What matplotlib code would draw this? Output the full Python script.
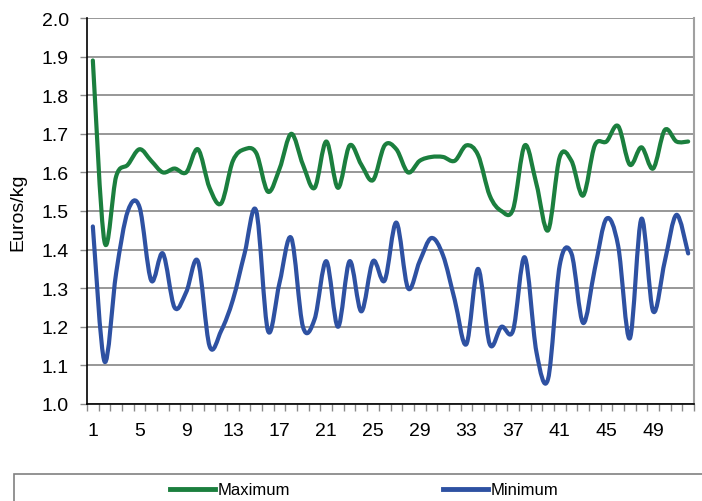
import numpy as np
import matplotlib
matplotlib.use("Agg")
import matplotlib.pyplot as plt
from matplotlib.path import Path
from matplotlib.patches import PathPatch, Rectangle
from matplotlib.lines import Line2D

plt.rcParams['font.family'] = ['Liberation Sans', 'DejaVu Sans']

weeks = np.arange(1, 53)
maximum = [1.89, 1.42, 1.59, 1.62, 1.66, 1.63, 1.60, 1.61, 1.60, 1.66,
           1.56, 1.52, 1.63, 1.66, 1.65, 1.55, 1.61, 1.70, 1.62, 1.56,
           1.68, 1.56, 1.67, 1.62, 1.58, 1.67, 1.66, 1.60, 1.63, 1.64,
           1.64, 1.63, 1.67, 1.645, 1.54, 1.50, 1.505, 1.67, 1.57, 1.45,
           1.64, 1.63, 1.54, 1.67, 1.68, 1.72, 1.62, 1.665, 1.61, 1.71,
           1.68, 1.68]
minimum = [1.46, 1.11, 1.34, 1.50, 1.51, 1.32, 1.39, 1.25, 1.29, 1.37,
           1.15, 1.19, 1.27, 1.39, 1.50, 1.19, 1.315, 1.43, 1.20, 1.22,
           1.37, 1.20, 1.37, 1.24, 1.37, 1.32, 1.47, 1.30, 1.37, 1.43,
           1.385, 1.27, 1.155, 1.35, 1.155, 1.20, 1.19, 1.38, 1.135, 1.065,
           1.36, 1.39, 1.21, 1.35, 1.48, 1.41, 1.17, 1.48, 1.24, 1.37,
           1.49, 1.39]
tick_weeks = list(range(1, 50, 4))
series = [("Maximum", maximum, '#1b7f3e'), ("Minimum", minimum, '#2e51a2')]


def smooth_path(x, y):
    # Bezier path like Excel "smoothed line"
    x = np.asarray(x, float)
    y = np.asarray(y, float)
    pts = np.column_stack([x, y])
    verts = [pts[0]]
    codes = [Path.MOVETO]
    n = len(pts)
    for i in range(n - 1):
        p0 = pts[max(i - 1, 0)]
        p1 = pts[i]
        p2 = pts[i + 1]
        p3 = pts[min(i + 2, n - 1)]
        c1 = p1 + (p2 - p0) / 6.0
        c2 = p2 - (p3 - p1) / 6.0
        verts += [c1, c2, p2]
        codes += [Path.CURVE4] * 3
    return Path(verts, codes)


fig = plt.figure(figsize=(7.02, 5.02), dpi=100)
ax = fig.add_axes([87 / 702, 97 / 502, 607 / 702, 386 / 502])

for name, vals, col in series:
    patch = PathPatch(smooth_path(weeks, vals), facecolor='none', edgecolor=col,
                      lw=3.0, capstyle='round', joinstyle='round', zorder=3)
    ax.add_patch(patch)

ax.set_xlim(0.5, 52.5)
ax.set_ylim(1.0, 2.0)
ax.set_yticks(np.arange(1.0, 2.01, 0.1))
ax.set_yticklabels([f"{v:.1f}" for v in np.arange(1.0, 2.01, 0.1)])
ax.yaxis.grid(True, color='#858585', lw=1.2)
ax.set_axisbelow(True)

ax.set_xticks(tick_weeks)
ax.set_xticklabels([str(w) for w in tick_weeks])
ax.set_xticks(np.arange(0.5, 53, 1), minor=True)
ax.tick_params(axis='x', which='major', length=0, pad=13, labelsize=14)
ax.tick_params(axis='x', which='minor', length=5, color='#8a8a8a', width=1)
ax.tick_params(axis='y', length=5, color='#8a8a8a', width=1, pad=8, labelsize=14)

ax.spines['top'].set_visible(False)
ax.spines['right'].set_color('#a0a0a0')
ax.spines['right'].set_linewidth(1.5)
ax.spines['left'].set_color('black')
ax.spines['bottom'].set_color('black')
ax.spines['left'].set_linewidth(1.2)
ax.spines['bottom'].set_linewidth(1.2)

ax.set_ylabel('Euros/kg', fontsize=14)
ax.yaxis.set_label_coords(-0.1, 0.5)

# legend box at the bottom, running past the figure edge
fig.patches.append(Rectangle((14 / 702, -0.05), 1.0, (502 - 475) / 502 + 0.05,
                             transform=fig.transFigure, facecolor='none',
                             edgecolor='#808080', lw=1.2, clip_on=False))
handles = [Line2D([], [], color=c, lw=3.5) for _, _, c in series]
leg = fig.legend(handles, [s[0] for s in series], loc='center left',
                 bbox_to_anchor=(170 / 702, 1 - 491 / 502), ncol=2, frameon=False,
                 fontsize=12, handlelength=2.7, handletextpad=0.15,
                 columnspacing=9.2, borderpad=0, borderaxespad=0)

fig.savefig('out.png', dpi=100)
